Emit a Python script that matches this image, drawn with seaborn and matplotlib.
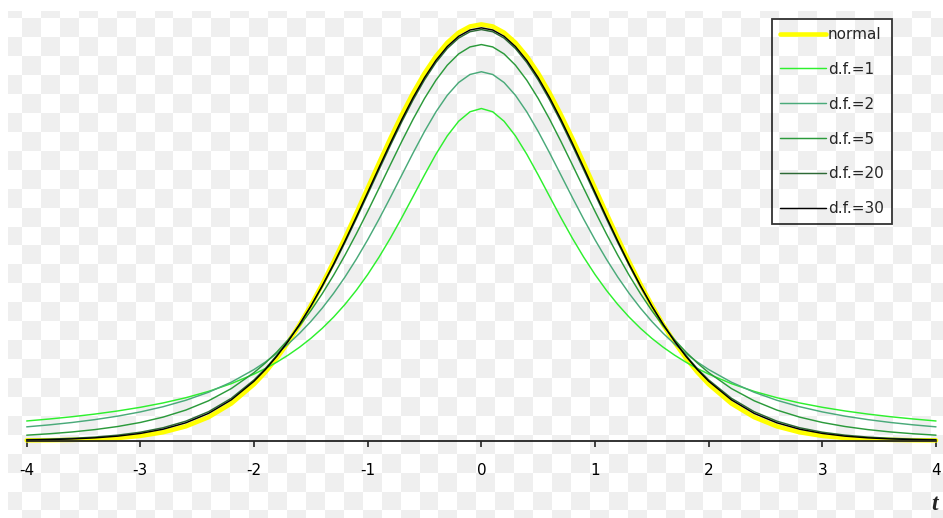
import numpy as np
import pandas as pd
import matplotlib
matplotlib.use("Agg")
import matplotlib.pyplot as plt
import seaborn as sns

# Density of Student's t distribution for several degrees of freedom,
# compared with the standard normal density. Sampled every 0.1 on [-2, 2]
# and every 0.2 in the tails.
t_values = [-4.0, -3.8, -3.6, -3.4, -3.2, -3.0, -2.8, -2.6, -2.4, -2.2,
            -2.0, -1.9, -1.8, -1.7, -1.6, -1.5, -1.4, -1.3, -1.2, -1.1,
            -1.0, -0.9, -0.8, -0.7, -0.6, -0.5, -0.4, -0.3, -0.2, -0.1,
            0.0,
            0.1, 0.2, 0.3, 0.4, 0.5, 0.6, 0.7, 0.8, 0.9, 1.0,
            1.1, 1.2, 1.3, 1.4, 1.5, 1.6, 1.7, 1.8, 1.9, 2.0,
            2.2, 2.4, 2.6, 2.8, 3.0, 3.2, 3.4, 3.6, 3.8, 4.0]

normal = [0.00013, 0.00029, 0.00061, 0.00123, 0.00238, 0.00443, 0.00792, 0.01358, 0.02239, 0.03547,
          0.05399, 0.06562, 0.07895, 0.09405, 0.11092, 0.12952, 0.14973, 0.17137, 0.19419, 0.21785,
          0.24197, 0.26609, 0.28969, 0.31225, 0.33322, 0.35207, 0.36827, 0.38139, 0.39104, 0.39695,
          0.39894,
          0.39695, 0.39104, 0.38139, 0.36827, 0.35207, 0.33322, 0.31225, 0.28969, 0.26609, 0.24197,
          0.21785, 0.19419, 0.17137, 0.14973, 0.12952, 0.11092, 0.09405, 0.07895, 0.06562, 0.05399,
          0.03547, 0.02239, 0.01358, 0.00792, 0.00443, 0.00238, 0.00123, 0.00061, 0.00029, 0.00013]

df_1 = [0.01872, 0.02062, 0.02280, 0.02534, 0.02832, 0.03183, 0.03601, 0.04102, 0.04709, 0.05451,
        0.06366, 0.06905, 0.07507, 0.08183, 0.08941, 0.09794, 0.10754, 0.11833, 0.13045, 0.14403,
        0.15915, 0.17586, 0.19409, 0.21363, 0.23405, 0.25465, 0.27441, 0.29203, 0.30607, 0.31516,
        0.31831,
        0.31516, 0.30607, 0.29203, 0.27441, 0.25465, 0.23405, 0.21363, 0.19409, 0.17586, 0.15915,
        0.14403, 0.13045, 0.11833, 0.10754, 0.09794, 0.08941, 0.08183, 0.07507, 0.06905, 0.06366,
        0.05451, 0.04709, 0.04102, 0.03601, 0.03183, 0.02832, 0.02534, 0.02280, 0.02062, 0.01872]

df_2 = [0.01309, 0.01500, 0.01728, 0.02003, 0.02335, 0.02741, 0.03240, 0.03857, 0.04626, 0.05590,
        0.06804, 0.07526, 0.08337, 0.09248, 0.10270, 0.11413, 0.12690, 0.14108, 0.15673, 0.17388,
        0.19245, 0.21230, 0.23313, 0.25451, 0.27582, 0.29630, 0.31501, 0.33096, 0.34321, 0.35092,
        0.35355,
        0.35092, 0.34321, 0.33096, 0.31501, 0.29630, 0.27582, 0.25451, 0.23313, 0.21230, 0.19245,
        0.17388, 0.15673, 0.14108, 0.12690, 0.11413, 0.10270, 0.09248, 0.08337, 0.07526, 0.06804,
        0.05590, 0.04626, 0.03857, 0.03240, 0.02741, 0.02335, 0.02003, 0.01728, 0.01500, 0.01309]

df_5 = [0.00512, 0.00646, 0.00819, 0.01045, 0.01341, 0.01729, 0.02242, 0.02918, 0.03809, 0.04980,
        0.06509, 0.07434, 0.08481, 0.09661, 0.10982, 0.12452, 0.14074, 0.15848, 0.17766, 0.19814,
        0.21968, 0.24195, 0.26449, 0.28677, 0.30814, 0.32792, 0.34538, 0.35982, 0.37064, 0.37734,
        0.37961,
        0.37734, 0.37064, 0.35982, 0.34538, 0.32792, 0.30814, 0.28677, 0.26449, 0.24195, 0.21968,
        0.19814, 0.17766, 0.15848, 0.14074, 0.12452, 0.10982, 0.09661, 0.08481, 0.07434, 0.06509,
        0.04980, 0.03809, 0.02918, 0.02242, 0.01729, 0.01341, 0.01045, 0.00819, 0.00646, 0.00512]

df_20 = [0.00082, 0.00131, 0.00208, 0.00328, 0.00513, 0.00796, 0.01223, 0.01852, 0.02763, 0.04048,
         0.05809, 0.06899, 0.08144, 0.09550, 0.11123, 0.12863, 0.14762, 0.16810, 0.18986, 0.21263,
         0.23605, 0.25968, 0.28303, 0.30557, 0.32668, 0.34581, 0.36237, 0.37584, 0.38581, 0.39192,
         0.39399,
         0.39192, 0.38581, 0.37584, 0.36237, 0.34581, 0.32668, 0.30557, 0.28303, 0.25968, 0.23605,
         0.21263, 0.18986, 0.16810, 0.14762, 0.12863, 0.11123, 0.09550, 0.08144, 0.06899, 0.05809,
         0.04048, 0.02763, 0.01852, 0.01223, 0.00796, 0.00513, 0.00328, 0.00208, 0.00131, 0.00082]

df_30 = [0.00052, 0.00090, 0.00151, 0.00253, 0.00417, 0.00678, 0.01082, 0.01696, 0.02600, 0.03895,
         0.05685, 0.06799, 0.08071, 0.09510, 0.11119, 0.12896, 0.14834, 0.16919, 0.19129, 0.21435,
         0.23799, 0.26179, 0.28523, 0.30778, 0.32885, 0.34788, 0.36432, 0.37768, 0.38754, 0.39359,
         0.39563,
         0.39359, 0.38754, 0.37768, 0.36432, 0.34788, 0.32885, 0.30778, 0.28523, 0.26179, 0.23799,
         0.21435, 0.19129, 0.16919, 0.14834, 0.12896, 0.11119, 0.09510, 0.08071, 0.06799, 0.05685,
         0.03895, 0.02600, 0.01696, 0.01082, 0.00678, 0.00417, 0.00253, 0.00151, 0.00090, 0.00052]

series_labels = ["normal", "d.f.=1", "d.f.=2", "d.f.=5", "d.f.=20", "d.f.=30"]
series_values = [normal, df_1, df_2, df_5, df_20, df_30]
series_colors = ["#ffff00", "#2ef02e", "#4aaa7a", "#2b9a3b", "#2d6a36", "#000000"]
series_widths = [3.3, 1.05, 1.05, 1.05, 1.05, 1.05]

x_ticks = [-4, -3, -2, -1, 0, 1, 2, 3, 4]

long = pd.concat(
    [pd.DataFrame({"t": t_values, "density": vals, "curve": name})
     for name, vals in zip(series_labels, series_values)],
    ignore_index=True,
)

W, H, DPI = 943, 518, 100
sns.set_style("white")
plt.rcParams["font.family"] = ["DejaVu Sans"]
plt.rcParams["axes.unicode_minus"] = False

fig = plt.figure(figsize=(W / DPI, H / DPI), dpi=DPI)
fig.patch.set_facecolor("white")

# light checkered backdrop behind the transparent plot
bg = fig.add_axes([0, 0, 1, 1], zorder=-10)
yy, xx = np.mgrid[0:H, 0:W] + 0.5
col = np.floor((xx - 22.0) / 18.93) + 1
row = np.floor((yy - 18.3) / 18.93) + 1
pattern = np.where((row + col) % 2 == 0, 239, 255).astype(float)
pattern[:, :8] = 255
pattern[:11, :] = 255
bg.imshow(pattern, cmap="gray", vmin=0, vmax=255, interpolation="nearest", aspect="auto")
bg.axis("off")

# plotting area: x = -4 .. 4 spans pixels 26.7 .. 936, zero density sits at 440.5 px
ax_left, ax_right = 26.7, 936.0
ax_bottom_px = 440.5
y_top = ax_bottom_px / 1043.0
ax = fig.add_axes([ax_left / W, (H - ax_bottom_px) / H, (ax_right - ax_left) / W, ax_bottom_px / H])
ax.set_facecolor("none")

for name, color, lw in zip(series_labels, series_colors, series_widths):
    sub = long[long["curve"] == name]
    sns.lineplot(data=sub, x="t", y="density", color=color, linewidth=lw, label=name,
                 ax=ax, sort=False, errorbar=None, clip_on=False)

ax.set_xlim(-4, 4)
ax.set_ylim(0, y_top)
ax.set_xticks(x_ticks)
ax.set_xticklabels([str(v) for v in x_ticks])
ax.set_yticks([])
ax.set_ylabel("")
for side in ("left", "top", "right"):
    ax.spines[side].set_visible(False)
ax.spines["bottom"].set_color("#222222")
ax.spines["bottom"].set_linewidth(1.3)
ax.tick_params(axis="x", direction="out", length=4.5, width=1.2, color="#222222",
               pad=12, labelsize=11, labelcolor="black", bottom=True)

ax.set_xlabel("t", family=["Liberation Serif", "DejaVu Serif"], fontsize=17,
              fontweight="bold", style="italic")
ax.xaxis.set_label_coords((935 - ax_left) / (ax_right - ax_left), (ax_bottom_px - 505) / ax_bottom_px)
ax.xaxis.label.set_verticalalignment("center")

leg = ax.legend(loc="upper left", bbox_to_anchor=(772 / W, 1 - 19.3 / H), bbox_transform=fig.transFigure,
                frameon=True, fancybox=False, facecolor="none", edgecolor="black",
                fontsize=11, handlelength=3.05, handletextpad=0.12, labelspacing=1.3,
                borderpad=0.5, borderaxespad=0)
leg.get_frame().set_linewidth(1.3)

fig.savefig("out.png", dpi=DPI)
